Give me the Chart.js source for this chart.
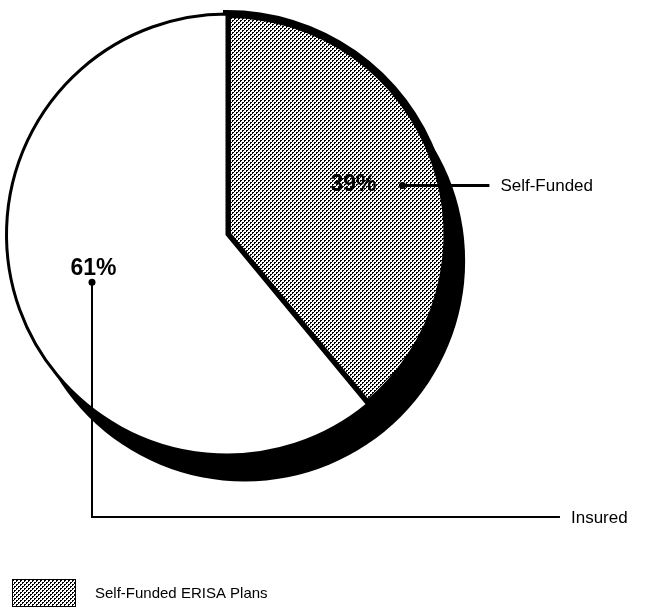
<!DOCTYPE html>
<html>
<head>
<meta charset="utf-8">
<script src="https://cdn.jsdelivr.net/npm/chart.js@4.4.0/dist/chart.umd.min.js"></script>
<style>
  html, body { margin: 0; padding: 0; background: #fff; }
  #wrap { width: 658px; height: 612px; }
</style>
</head>
<body>
<div id="wrap"><canvas id="pie" width="658" height="612"></canvas></div>
<script>
// Share of plans by funding type (percent)
const categories = ["Self-Funded", "Insured"];
const shares = [39, 61];
const shareLabels = ["39%", "61%"];
const legendLabels = ["Self-Funded ERISA Plans"];

const FONT = "'Liberation Sans', Arial, sans-serif";

// halftone dot pattern like the printed gray screen
function halftone() {
  const tile = document.createElement("canvas");
  tile.width = 4;
  tile.height = 4;
  const t = tile.getContext("2d");
  t.fillStyle = "#fff";
  t.fillRect(0, 0, 4, 4);
  t.fillStyle = "#000";
  t.fillRect(0, 0, 2, 2);
  t.fillRect(2, 2, 2, 2);
  t.fillStyle = "#fff";
  t.fillRect(1, 1, 1, 1);
  t.fillRect(3, 3, 1, 1);
  return document.getElementById("pie").getContext("2d").createPattern(tile, "repeat");
}
const dots = halftone();

function pieGeometry(chart) {
  const arcs = chart.getDatasetMeta(0).data;
  const p = arcs[0].getProps(["x", "y", "outerRadius"], true);
  return { arcs, x: p.x, y: p.y, r: p.outerRadius };
}

function midDirection(arc) {
  const a = arc.getProps(["startAngle", "endAngle"], true);
  const mid = (a.startAngle + a.endAngle) / 2;
  return { dx: Math.cos(mid), dy: Math.sin(mid) };
}

// solid black "thickness" of the tilted pie, offset down-right
const depthPlugin = {
  id: "depth",
  beforeDatasetsDraw(chart) {
    const { x, y, r } = pieGeometry(chart);
    const ctx = chart.ctx;
    ctx.save();
    ctx.fillStyle = "#000";
    ctx.beginPath();
    ctx.arc(x + r * 0.08, y + r * 0.12, r, 0, Math.PI * 2);
    ctx.fill();
    ctx.restore();
  },
};

// percentage labels, leader lines and the legend
const calloutPlugin = {
  id: "callouts",
  afterDraw(chart) {
    const { arcs, x, y, r } = pieGeometry(chart);
    const ctx = chart.ctx;
    ctx.save();
    ctx.fillStyle = "#000";
    ctx.strokeStyle = "#000";
    ctx.lineWidth = 2;
    ctx.textBaseline = "middle";

    // Self-Funded
    let d = midDirection(arcs[0]);
    let lx = x + d.dx * r * 0.6;
    let ly = Math.round(y + d.dy * r * 0.6 - 5);
    ctx.font = "bold 23px " + FONT;
    ctx.textAlign = "center";
    ctx.fillText(shareLabels[0], lx + 2, ly);
    let dotX = lx + 51, dotY = ly + 0.5;
    ctx.beginPath();
    ctx.arc(dotX, dotY, 3.5, 0, Math.PI * 2);
    ctx.fill();
    ctx.lineWidth = 3;
    ctx.beginPath();
    ctx.moveTo(dotX, dotY);
    ctx.lineTo(x + r * 1.19, dotY);
    ctx.stroke();
    ctx.lineWidth = 2;
    ctx.font = "17px " + FONT;
    ctx.textAlign = "left";
    ctx.fillText(categories[0], x + r * 1.24, dotY + 1);

    // Insured
    d = midDirection(arcs[1]);
    lx = x + d.dx * r * 0.6 - 9;
    ly = y + d.dy * r * 0.6 - 11;
    ctx.font = "bold 23px " + FONT;
    ctx.textAlign = "center";
    ctx.fillText(shareLabels[1], lx, ly);
    dotX = Math.round(lx - 2);
    dotY = ly + 14;
    ctx.beginPath();
    ctx.arc(dotX, dotY, 3.5, 0, Math.PI * 2);
    ctx.fill();
    const elbowY = Math.round(y + r * 1.28);
    ctx.beginPath();
    ctx.moveTo(dotX, dotY);
    ctx.lineTo(dotX, elbowY);
    ctx.lineTo(x + r * 1.51, elbowY);
    ctx.stroke();
    ctx.font = "17px " + FONT;
    ctx.textAlign = "left";
    ctx.fillText(categories[1], x + r * 1.56, elbowY + 1);

    // legend (only the shaded series is keyed)
    const bx = 12, by = 579, bw = 64, bh = 28;
    ctx.fillStyle = dots;
    ctx.fillRect(bx, by, bw, bh);
    ctx.lineWidth = 1;
    ctx.strokeRect(bx + 0.5, by + 0.5, bw - 1, bh - 1);
    ctx.fillStyle = "#000";
    ctx.font = "15px " + FONT;
    ctx.fillText(legendLabels[0], 95, by + bh / 2 + 1);
    ctx.restore();
  },
};

new Chart(document.getElementById("pie"), {
  type: "pie",
  data: {
    labels: categories,
    datasets: [
      {
        data: shares,
        backgroundColor: [dots, "#ffffff"],
        borderColor: "#000000",
        borderWidth: [8, 3],
        borderJoinStyle: "miter",
      },
    ],
  },
  options: {
    responsive: false,
    devicePixelRatio: 1,
    animation: false,
    layout: { padding: { left: 1, top: 10, right: 205, bottom: 153 } },
    plugins: {
      legend: { display: false },
      tooltip: { enabled: false },
    },
  },
  plugins: [depthPlugin, calloutPlugin],
});
</script>
</body>
</html>
